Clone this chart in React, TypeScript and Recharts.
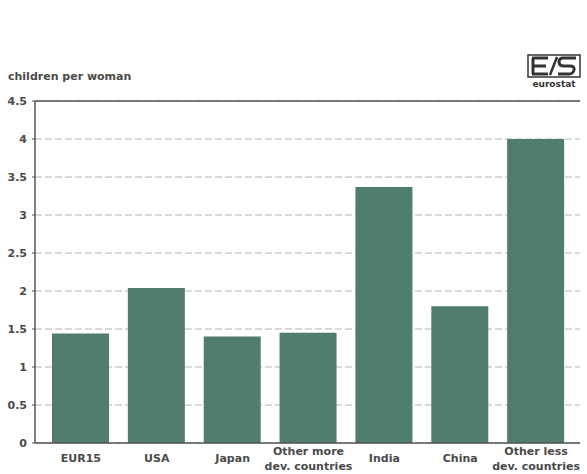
import React from 'react';
import {
  BarChart,
  Bar,
  XAxis,
  YAxis,
  CartesianGrid,
  ReferenceLine,
} from 'recharts';

// Total fertility rate by region
const regions: string[] = [
  'EUR15',
  'USA',
  'Japan',
  'Other more|dev. countries',
  'India',
  'China',
  'Other less|dev. countries',
];
const fertility: number[] = [1.44, 2.04, 1.4, 1.45, 3.37, 1.8, 4.0];
const yTicks: number[] = [0, 0.5, 1, 1.5, 2, 2.5, 3, 3.5, 4, 4.5];

const FONT = '"DejaVu Sans", Verdana, sans-serif';
const INK = '#4a4a4a';
const BAR = '#507d6e';

const data = regions.map((r, i) => ({ region: r, value: fertility[i] }));

function RegionTick(props: any): React.JSX.Element {
  const { x, y, payload } = props;
  const lines: string[] = String(payload.value).split('|');
  return (
    <text
      x={x}
      y={y}
      textAnchor="middle"
      fill={INK}
      fontFamily={FONT}
      fontWeight="bold"
      fontSize={11}
    >
      {lines.length === 1 ? (
        <tspan x={x} dy={11}>{lines[0]}</tspan>
      ) : (
        <>
          <tspan x={x} dy={4}>{lines[0]}</tspan>
          <tspan x={x} dy={15}>{lines[1]}</tspan>
        </>
      )}
    </text>
  );
}

function Logo(): React.JSX.Element {
  return (
    <svg
      width={58}
      height={38}
      style={{ position: 'absolute', left: 525, top: 53 }}
    >
      <rect x={3} y={2} width={52} height={22} fill="#fff" stroke="#333" strokeWidth={1.5} />
      {/* E */}
      <path d="M7 5 H23 M7 13 H21 M7 21 H23 M8 5 V21" stroke="#333" strokeWidth={3} fill="none" />
      {/* slash */}
      <path d="M25 22 L32 4" stroke="#333" strokeWidth={2.5} fill="none" />
      {/* S */}
      <path d="M51 5 H38 Q34 5 34 9 Q34 13 39 13 H45 Q50 13 49 17 Q48 21 44 21 H33" stroke="#333" strokeWidth={3} fill="none" />
      <text
        x={29}
        y={34}
        textAnchor="middle"
        fontFamily={FONT}
        fontWeight="bold"
        fontSize={9}
        fill="#333"
      >
        eurostat
      </text>
    </svg>
  );
}

export default function App(): React.JSX.Element {
  return (
    <div
      style={{
        position: 'absolute',
        left: 0,
        top: 0,
        width: 587,
        height: 474,
        background: '#fff',
      }}
    >
      <div
        style={{
          position: 'absolute',
          left: 8,
          top: 70,
          fontFamily: FONT,
          fontWeight: 'bold',
          fontSize: 11,
          color: INK,
        }}
      >
        children per woman
      </div>
      <Logo />
      <BarChart
        width={587}
        height={474}
        data={data}
        margin={{ top: 101, right: 7, bottom: 0, left: 0 }}
        barSize={57}
      >
        <CartesianGrid
          vertical={false}
          stroke="#b4b4b4"
          strokeDasharray="7 3"
        />
        <XAxis
          dataKey="region"
          height={31}
          interval={0}
          padding={{ left: 8, right: 6 }}
          tick={<RegionTick />}
          tickLine={false}
          axisLine={{ stroke: '#555', strokeWidth: 1.5 }}
        />
        <YAxis
          domain={[0, 4.5]}
          ticks={yTicks}
          width={35}
          tickSize={3}
          tickMargin={5}
          axisLine={{ stroke: '#555', strokeWidth: 1.5 }}
          tickLine={{ stroke: '#555' }}
          tick={{ fill: INK, fontFamily: FONT, fontWeight: 'bold', fontSize: 11 }}
        />
        <YAxis
          yAxisId="frame"
          orientation="right"
          width={0}
          tick={false}
          tickLine={false}
          axisLine={{ stroke: '#777', strokeWidth: 1 }}
        />
        <ReferenceLine y={4.5} stroke="#555" strokeWidth={1.5} />
        <Bar dataKey="value" fill={BAR} isAnimationActive={false} />
      </BarChart>
    </div>
  );
}
